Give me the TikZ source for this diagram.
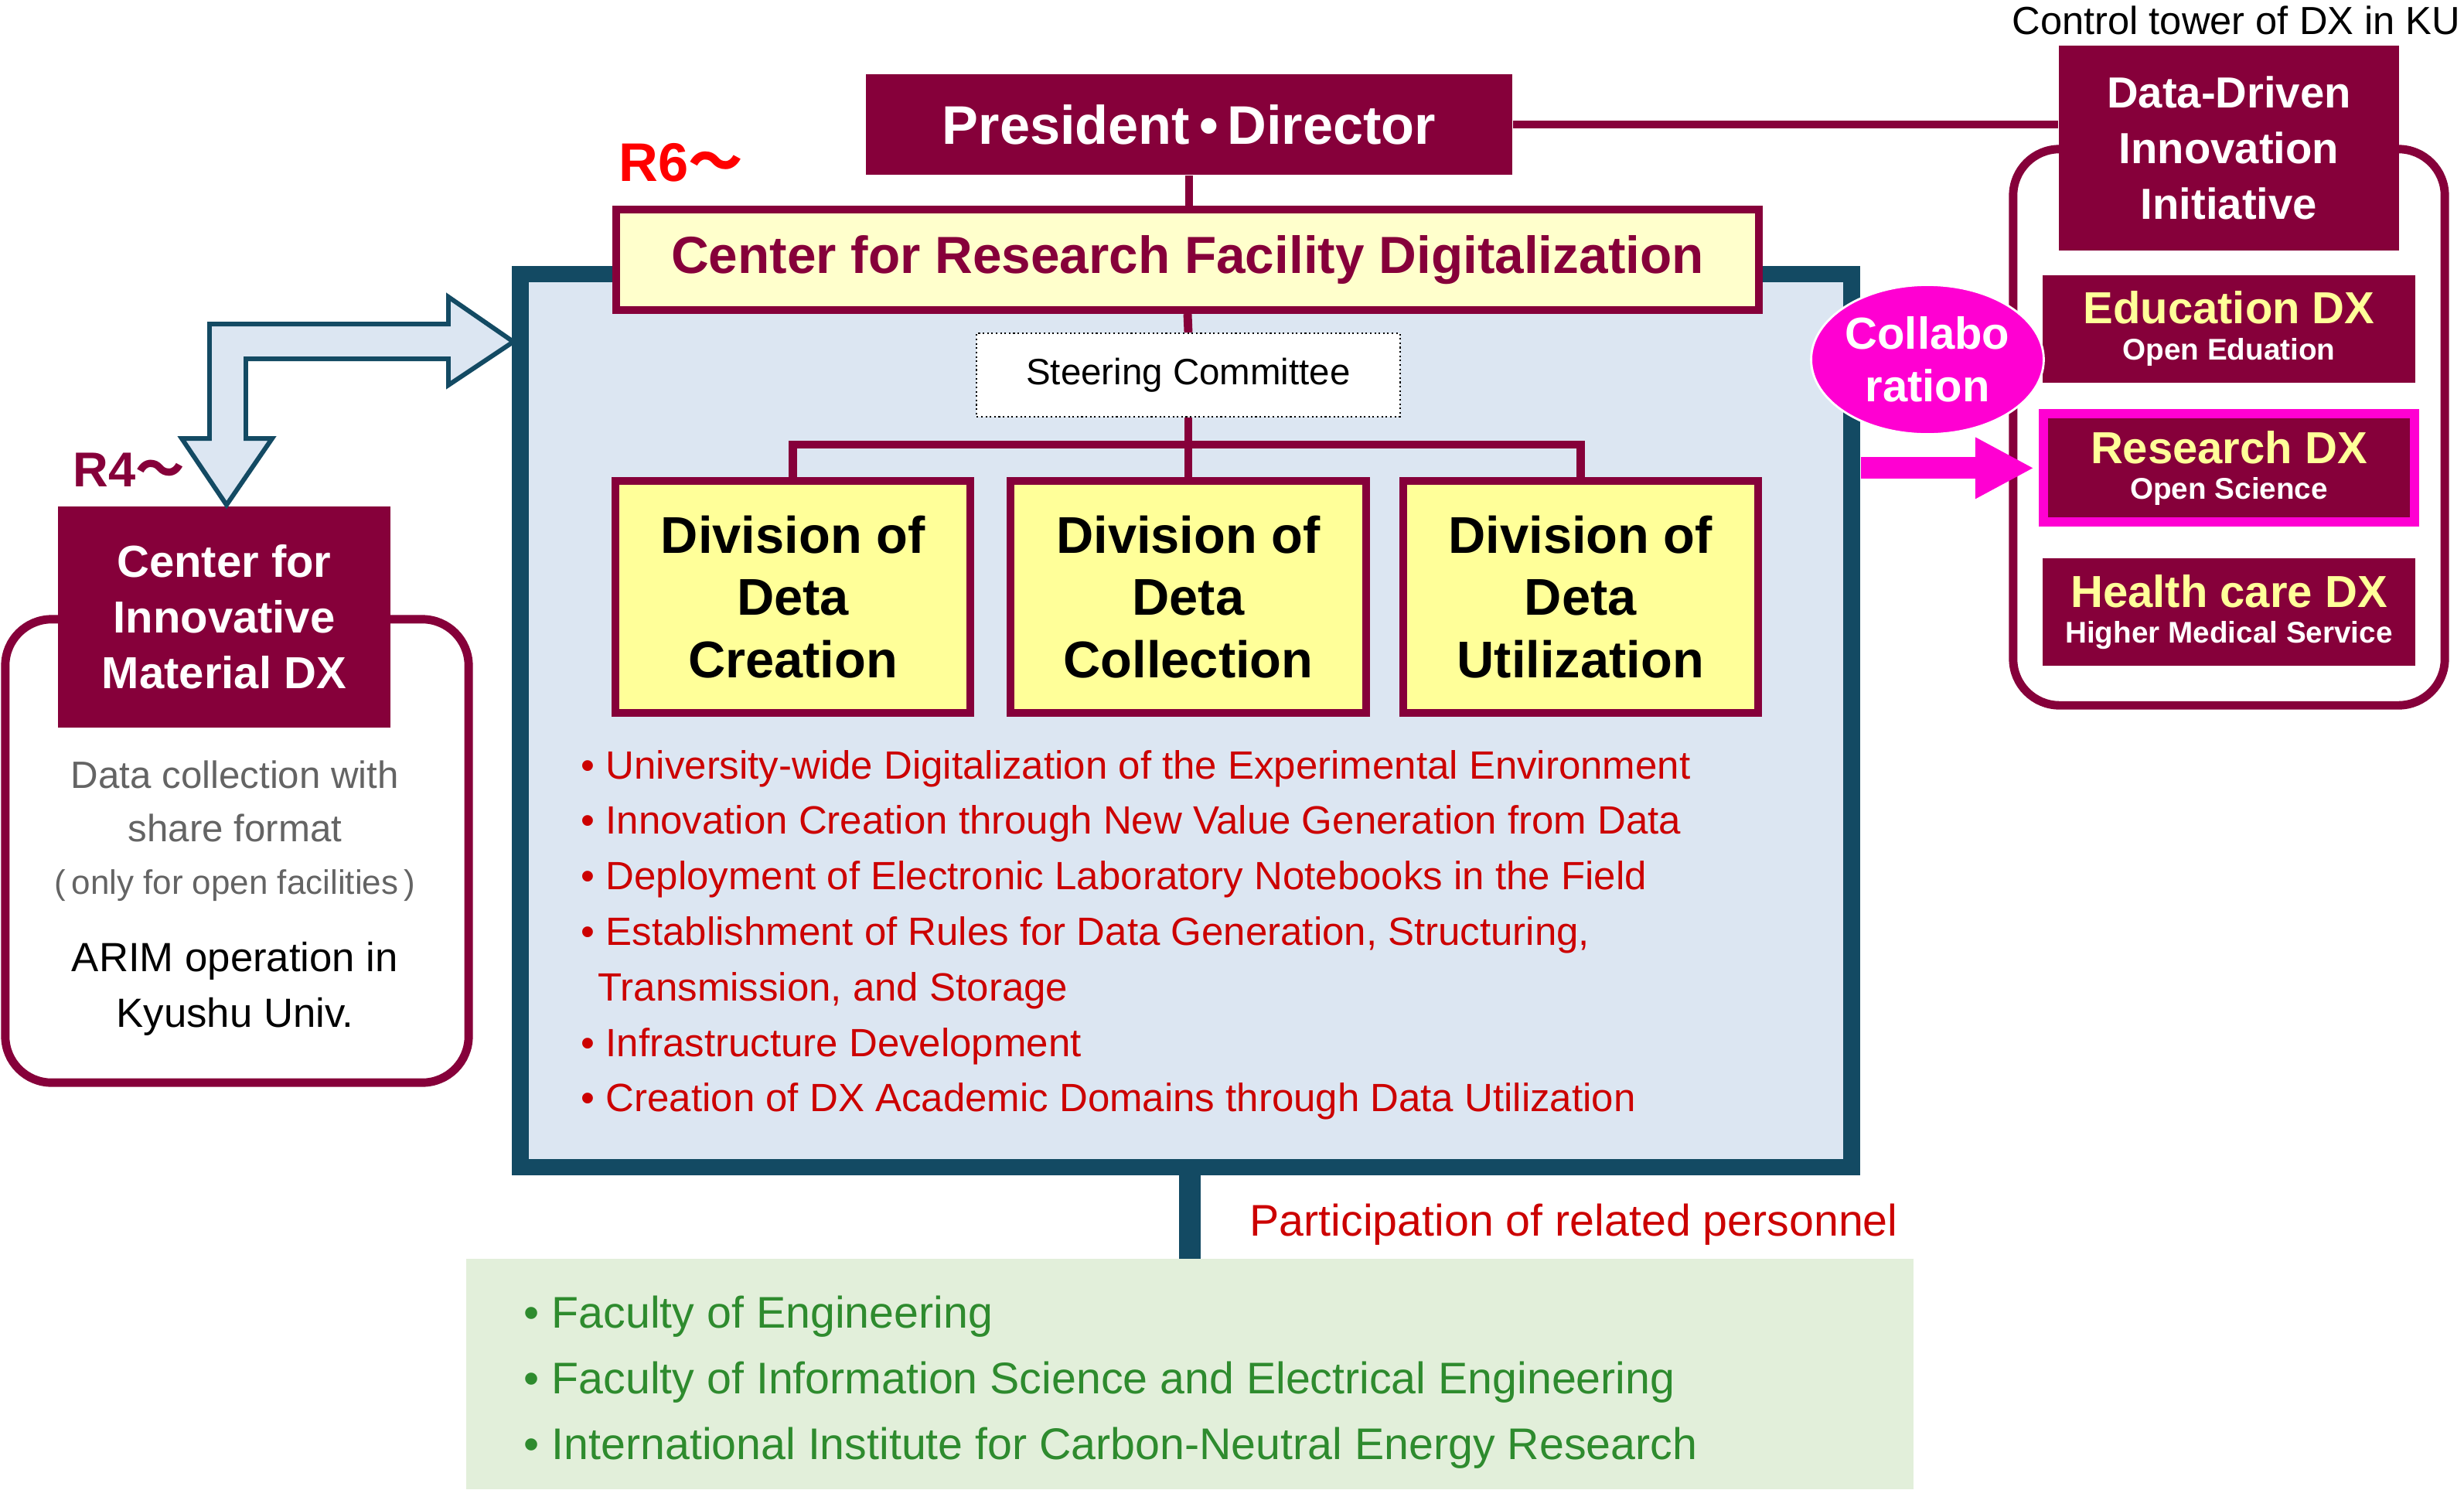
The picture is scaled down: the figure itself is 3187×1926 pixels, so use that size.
\documentclass[tikz,border=0pt]{standalone}
\usepackage{fontspec}
\setmainfont{Liberation Sans}
\newfontfamily\cjk{Noto Sans CJK JP}
\usetikzlibrary{positioning}
\usetikzlibrary{shapes.geometric}
\usetikzlibrary{arrows.meta}

\definecolor{kumaroon}{RGB}{134,0,58}
\definecolor{kuteal}{RGB}{19,74,99}
\definecolor{kublue}{RGB}{220,230,242}
\definecolor{kucream}{RGB}{255,255,204}
\definecolor{kuyellow}{RGB}{255,255,153}
\definecolor{kumagenta}{RGB}{255,0,210}
\definecolor{kured}{RGB}{204,0,0}
\definecolor{kugreen}{RGB}{46,139,46}
\definecolor{kugreenbg}{RGB}{226,239,218}
\definecolor{kugray}{RGB}{100,100,100}

\newcommand\setfs[2]{\fontsize{#1}{#2}\selectfont}

\begin{document}
\begin{tikzpicture}[x=0.01cm,y=-0.01cm]
\tikzset{dxbox/.style={
    fill=kumaroon, text=white,
    inner sep=0pt, align=center
  },
  subdx/.style={dxbox,
    minimum width=4.81cm, minimum height=1.39cm
  },
  division/.style={draw=kumaroon, line width=2.85pt,
    fill=kuyellow, inner sep=0pt, align=center,
    minimum width=4.59cm, minimum height=2.99cm,
    font=\bfseries\setfs{19}{22.8}
  },
  frame/.style={draw=kumaroon, line width=3.1pt,
    rounded corners=0.6cm, fill=white
  },
  orgline/.style={draw=kumaroon, line width=3.1pt},
  goalitem/.style={anchor=base west, inner sep=0pt,
    text=kured, font=\setfs{14.5}{17}
  },
  memberitem/.style={anchor=base west, inner sep=0pt,
    text=kugreen, font=\setfs{16.3}{19}
  }
}
\useasboundingbox (0,0) rectangle (3187,1926);

% center box and its members
\node[draw=kuteal, line width=6pt, fill=kublue, inner sep=0pt, outer sep=0pt,
  minimum width=17.21cm, minimum height=11.54cm] (mainbox) at (1534,932) {};
\node[fill=kugreenbg, inner sep=0pt, outer sep=0pt,
  minimum width=18.70cm, minimum height=2.98cm] (green) at (1539,1777) {};
\draw[kuteal, line width=8pt] (green.north) -- (green.north |- mainbox.south);
\node[anchor=base west, inner sep=0pt, text=kured, font=\setfs{16.3}{19}]
  (particip) at (1616,1598) {Participation of related personnel};

\node[dxbox, font=\bfseries\setfs{20}{23},
  minimum width=8.36cm, minimum height=1.30cm] (pres) at (1538,161) {President\,•\,Director};
\node[draw=kumaroon, line width=2.85pt, fill=kucream, text=kumaroon,
  font=\bfseries\setfs{19.2}{23}, inner sep=0pt,
  minimum width=14.78cm, minimum height=1.30cm] (crfd) at (1536,336)
  {Center for Research Facility Digitalization};
\draw[orgline] (pres.south) -- (pres.south |- crfd.north);
\node[anchor=base west, inner sep=0pt, text=red, font=\bfseries\setfs{20}{23}]
  (rsix) at (800,234) {R6{\cjk 〜}};

\node[draw, densely dotted, line width=0.6pt, fill=white, inner sep=0pt,
  font=\setfs{13.5}{16}, minimum width=5.47cm, minimum height=1.08cm]
  (steer) at (1537,485) {Steering Committee};
\draw[orgline] (crfd.south) -- (steer.north);

\node[division] (div2) at (1537,772) {Division of\\Deta\\Collection};
\node[division, left=0.42cm of div2] (div1) {Division of\\Deta\\Creation};
\node[division, right=0.38cm of div2] (div3) {Division of\\Deta\\Utilization};
\coordinate (fork) at (1537,575);
\draw[orgline] (steer.south) -- (fork);
\draw[orgline] (div1.north) |- (fork) -| (div3.north);
\draw[orgline] (fork) -- (div2.north);

\foreach \goal [count=\i from 0] in {%
  {•~University-wide Digitalization of the Experimental Environment},
  {•~Innovation Creation through New Value Generation from Data},
  {•~Deployment of Electronic Laboratory Notebooks in the Field},
  {•~Establishment of Rules for Data Generation, Structuring,},
  {\hspace{0.22cm}Transmission, and Storage},
  {•~Infrastructure Development},
  {•~Creation of DX Academic Domains through Data Utilization}}
  \node[goalitem] (goal\i) at (751,1007+71.8*\i) {\goal};

\foreach \member [count=\i from 0] in {%
  {•~Faculty of Engineering},
  {•~Faculty of Information Science and Electrical Engineering},
  {•~International Institute for Carbon-Neutral Energy Research}}
  \node[memberitem] (member\i) at (677,1717+85*\i) {\member};

% control tower
\node[anchor=base east, inner sep=0pt, font=\setfs{14.4}{17}]
  (tower) at (3183,44) {Control tower of DX in KU};
\node[frame, minimum width=5.58cm, minimum height=7.19cm] (ctrlframe) at (2883,552.5) {};
\node[dxbox, font=\bfseries\setfs{16}{20.5},
  minimum width=4.40cm, minimum height=2.65cm] (ddii) at (2883,191.5)
  {\rule{0pt}{0.12cm}Data-Driven\\Innovation\\Initiative};
\draw[orgline] (pres.east) -- (pres.east -| ddii.west);

\node[subdx, below=0.30cm of ddii, font=\bfseries\setfs{16.5}{13.2}] (edu)
  {\color{kuyellow}Education DX\\\setfs{11}{13.2}\color{white}Open Eduation};
\node[subdx, below=0.34cm of edu, draw=kumagenta, line width=3.4pt,
  minimum width=4.80cm, minimum height=1.40cm, font=\bfseries\setfs{16.5}{13.2}] (research)
  {\color{kuyellow}Research DX\\\setfs{11}{13.2}\color{white}Open Science};
\node[subdx, below=0.40cm of research, font=\bfseries\setfs{16.5}{13.2}] (health)
  {\color{kuyellow}Health care DX\\\setfs{11}{13.2}\color{white}Higher Medical Service};

\node[ellipse, fill=kumagenta, draw=white, line width=0.8pt, text=white,
  font=\bfseries\setfs{16.5}{19.4}, inner sep=0pt, align=center,
  minimum width=2.72cm, minimum height=1.93cm] (collab) at (2493,465) {Collabo\\ration};
\path (mainbox.east |- research.west) ++(12,0) coordinate (arrowstart);
\draw[kumagenta, line width=8pt, -{Triangle[length=0.76cm,width=0.74cm]}]
  (arrowstart) -- ([xshift=-0.06cm]research.west);

% materials DX on the left
\node[frame, minimum width=5.99cm, minimum height=5.99cm] (leftframe) at (306.5,1100.5) {};
\node[dxbox, font=\bfseries\setfs{16.5}{20.5},
  minimum width=4.30cm, minimum height=2.86cm] (cimdx) at (290,798)
  {Center for\\Innovative\\Material DX};
\node[anchor=base west, inner sep=0pt, text=kumaroon, font=\bfseries\setfs{18}{21}]
  (rfour) at (94,629) {R4{\cjk 〜}};
\node[text=kugray, align=center, inner sep=0pt, font=\setfs{14}{19.5}] (note) at (304,1075)
  {Data collection with\\share format\\\setfs{12.5}{18}(\,only for open facilities\,)};
\node[align=center, inner sep=0pt, font=\setfs{15}{20.5}] (arim) at (304,1279)
  {ARIM operation in\\Kyushu Univ.};

\draw[kuteal, line width=1.7pt, fill=kublue, line join=miter]
  (664,442) -- (580,384) -- (580,419) -- (271,419) -- (271,567) -- (235,567)
  -- (293,653) -- (352,567) -- (318,567) -- (318,464) -- (580,464) -- (580,498) -- cycle;
\end{tikzpicture}
\end{document}
